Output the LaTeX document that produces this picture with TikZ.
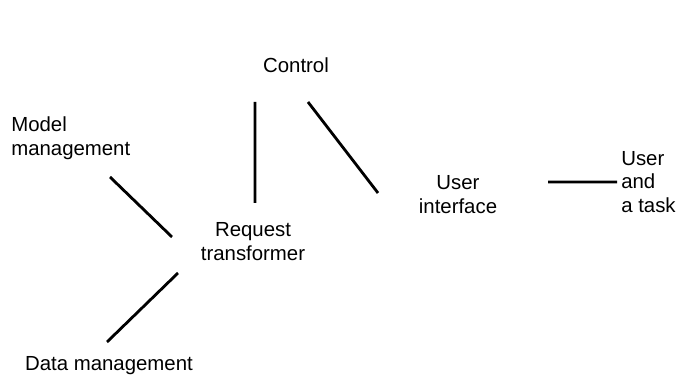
\documentclass[tikz,border=0pt]{standalone}
\usepackage{fontspec}
\setmainfont{Liberation Sans}
\usetikzlibrary{
    calc,
    positioning
}
\tikzset{
  link/.style={
    black,
    line width=2pt
  },
  term/.style={
    inner sep=0pt,
    align=center,
    font=\fontsize{14.5pt}{17pt}\selectfont
  }
}

\begin{document}
\begin{tikzpicture}
    \useasboundingbox (0,0) rectangle (17.05,9.5);

    % nodes
    \node[term] (ctrl) at (7.4,7.875) {Control};
    \node[term, anchor=west, align=left] (model) at (0.275,6.05) {Model\\management};
    \node[term] (req) at (6.325,3.45) {Request\\transformer};
    \node[term] (ui) at (11.45,4.625) {User\\interface};
    \node[term, anchor=west, align=left] (user) at (15.525,4.95) {User\\and\\a task};
    \node[term] (data) at (2.725,0.35) {Data management};

    % links
    \draw[link] ([shift={(-1.025,-0.925)}]ctrl.center) -- ([shift={(0.05,0.975)}]req.center);
    \draw[link] ([shift={(0.3,-0.925)}]ctrl.center) -- ([shift={(-2.0,0.05)}]ui.center);
    \draw[link] ([shift={(2.475,-0.975)}]model.west) -- ([shift={(-2.025,0.125)}]req.center);
    \draw[link] ([shift={(-1.875,-0.775)}]req.center) -- ([shift={(-0.05,0.6)}]data.center);
    \draw[link] ([shift={(2.25,0.325)}]ui.center) -- ([shift={(-0.1,0)}]user.west);
\end{tikzpicture}
\end{document}
